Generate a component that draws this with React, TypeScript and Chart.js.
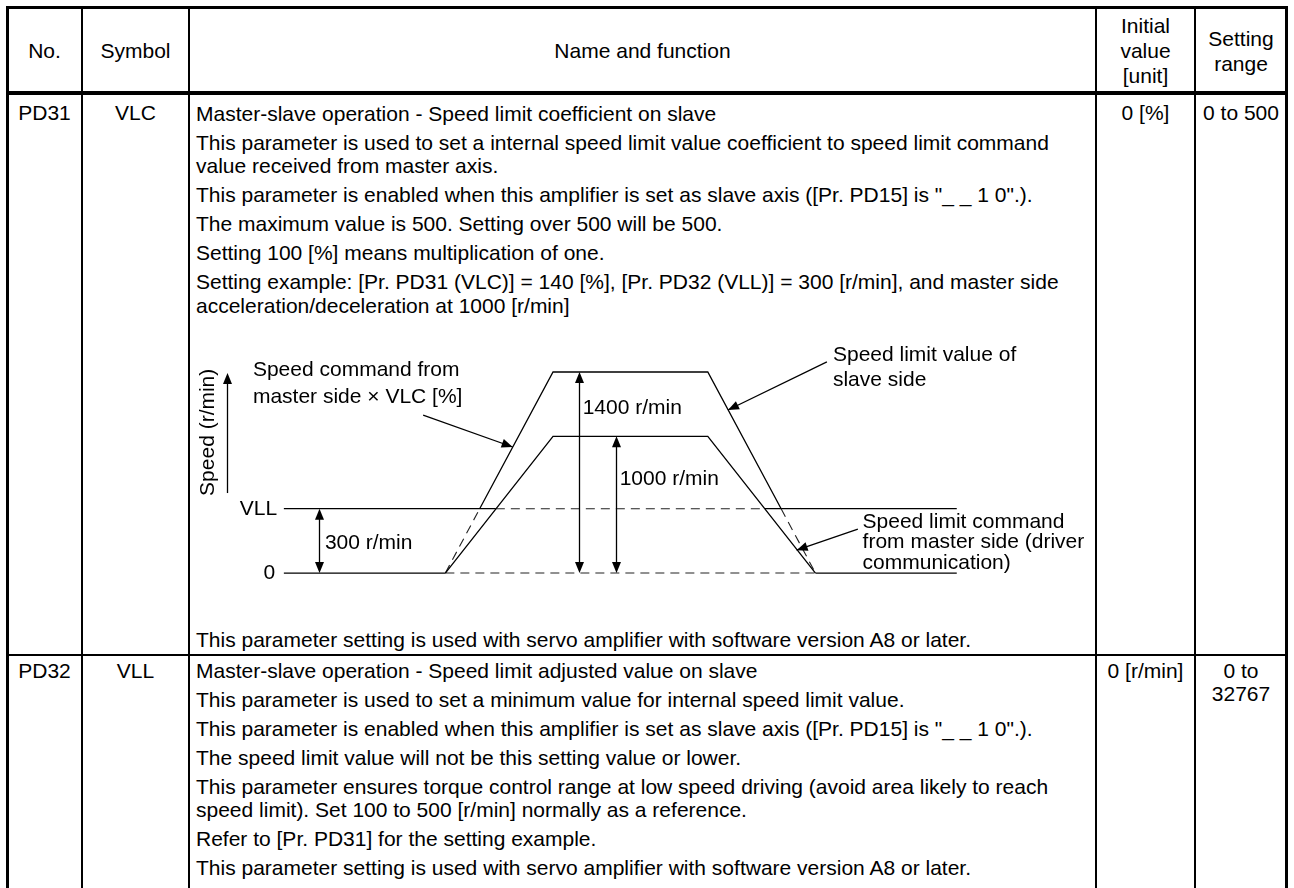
import React, { useEffect, useRef } from "react";
import { Chart, registerables } from "chart.js";

Chart.register(...registerables);

// ---------------- Table content ----------------
const headerNo = "No.";
const headerSymbol = "Symbol";
const headerName = "Name and function";
const headerInitial = ["Initial", "value", "[unit]"];
const headerRange = ["Setting", "range"];

const pd31No = "PD31";
const pd31Symbol = "VLC";
const pd31Initial = "0 [%]";
const pd31Range = ["0 to 500"];
const pd31Paragraphs = [
  ["Master-slave operation - Speed limit coefficient on slave"],
  [
    "This parameter is used to set a internal speed limit value coefficient to speed limit command",
    "value received from master axis.",
  ],
  ['This parameter is enabled when this amplifier is set as slave axis ([Pr. PD15] is "_ _ 1 0".).'],
  ["The maximum value is 500. Setting over 500 will be 500."],
  ["Setting 100 [%] means multiplication of one."],
  [
    "Setting example: [Pr. PD31 (VLC)] = 140 [%], [Pr. PD32 (VLL)] = 300 [r/min], and master side",
    "acceleration/deceleration at 1000 [r/min]",
  ],
];
const pd31Footer = "This parameter setting is used with servo amplifier with software version A8 or later.";

const pd32No = "PD32";
const pd32Symbol = "VLL";
const pd32Initial = "0 [r/min]";
const pd32Range = ["0 to", "32767"];
const pd32Paragraphs = [
  ["Master-slave operation - Speed limit adjusted value on slave"],
  ["This parameter is used to set a minimum value for internal speed limit value."],
  ['This parameter is enabled when this amplifier is set as slave axis ([Pr. PD15] is "_ _ 1 0".).'],
  ["The speed limit value will not be this setting value or lower."],
  [
    "This parameter ensures torque control range at low speed driving (avoid area likely to reach",
    "speed limit). Set 100 to 500 [r/min] normally as a reference.",
  ],
  ["Refer to [Pr. PD31] for the setting example."],
  ["This parameter setting is used with servo amplifier with software version A8 or later."],
];

// ---------------- Diagram data (schematic, not to scale) ----------------
// x: time (schematic units), y: speed level (schematic % of drawing height)
const levelZero = 0;
const levelVLL = 32; // VLL = 300 r/min
const levelMaster = 68; // speed limit command from master = 1000 r/min
const levelSlave = 100; // master x VLC (140 %) = 1400 r/min

const masterCmdT = [24, 40, 63, 79];
const masterCmdV = [levelZero, levelMaster, levelMaster, levelZero];

const slaveSolidT = [29.1, 40, 63, 73.9];
const slaveSolidV = [levelVLL, levelSlave, levelSlave, levelVLL];
const slaveDashLeftT = [24, 29.1];
const slaveDashLeftV = [levelZero, levelVLL];
const slaveDashRightT = [73.9, 79];
const slaveDashRightV = [levelVLL, levelZero];

const vllSolidLeftT = [0, 31.5];
const vllDashT = [31.5, 71.5];
const vllSolidRightT = [71.5, 100];

const zeroSolidLeftT = [0, 24];
const zeroDashT = [24, 79];
const zeroSolidRightT = [79, 100];

// dimension arrows (double headed): time position, from level, to level
const dimArrowT = [5.2, 43.8, 49.3];
const dimArrowFrom = [levelZero, levelZero, levelZero];
const dimArrowTo = [levelVLL, levelSlave, levelMaster];
const dimArrowText = ["300 r/min", "1400 r/min", "1000 r/min"];
const dimTextT = [6.1, 44.4, 49.9];
const dimTextV = [14.9, 82.1, 46.8];

// speed axis arrow
const axisArrowT = -8.5;
const axisArrowV = [39.8, 99.5];
const axisTitle = "Speed (r/min)";
const axisTitlePos = [-11.3, 70];

// level labels
const levelLabels = ["VLL", "0"];
const levelLabelT = [-1.0, -1.3];
const levelLabelV = [levelVLL, levelZero];

// callouts: lines of text, text anchor, pointer from -> to
const calloutLines = [
  ["Speed command from", "master side \u00d7 VLC [%]"],
  ["Speed limit value of", "slave side"],
  ["Speed limit command", "from master side (driver", "communication)"],
];
const calloutTextT = [-4.6, 81.6, 86.0];
const calloutTextV = [
  [101, 87.6],
  [108.5, 96],
  [25.4, 15.4, 5.0],
];
const pointerFromT = [20.7, 80.7, 85.3];
const pointerFromV = [78.6, 105, 21.9];
const pointerToT = [34.0, 66.0, 76.2];
const pointerToV = [62.7, 81.1, 11.4];

// scale ranges
const X_MIN = -13.8;
const X_MAX = 119.8;
const Y_MIN = -13.4;
const Y_MAX = 118.4;

const FONT_FAMILY = '"Liberation Sans", Arial, Helvetica, sans-serif';
const FONT_SIZE = 21;

const annotationPlugin = {
  id: "diagramAnnotations",
  afterDatasetsDraw(chart: any) {
    const { ctx } = chart;
    const xs = chart.scales.x;
    const ys = chart.scales.y;
    const px = (t: number) => xs.getPixelForValue(t);
    const py = (v: number) => ys.getPixelForValue(v);
    ctx.save();
    ctx.strokeStyle = "#000";
    ctx.fillStyle = "#000";
    ctx.lineWidth = 1.3;
    ctx.setLineDash([]);

    const head = (x0: number, y0: number, x1: number, y1: number) => {
      const a = Math.atan2(y1 - y0, x1 - x0);
      const len = 11;
      const half = 4.5;
      const bx = x1 - len * Math.cos(a);
      const by = y1 - len * Math.sin(a);
      ctx.beginPath();
      ctx.moveTo(x1, y1);
      ctx.lineTo(bx + half * Math.sin(a), by - half * Math.cos(a));
      ctx.lineTo(bx - half * Math.sin(a), by + half * Math.cos(a));
      ctx.closePath();
      ctx.fill();
    };
    const seg = (x0: number, y0: number, x1: number, y1: number) => {
      ctx.beginPath();
      ctx.moveTo(x0, y0);
      ctx.lineTo(x1, y1);
      ctx.stroke();
    };

    // dimension arrows
    dimArrowT.forEach((t, i) => {
      const x = Math.round(px(t)) + 0.5;
      const y0 = py(dimArrowFrom[i]);
      const y1 = py(dimArrowTo[i]);
      seg(x, y0 - 6, x, y1 + 6);
      head(x, y1 + 20, x, y0);
      head(x, y0 - 20, x, y1);
    });

    // speed axis arrow
    {
      const x = Math.round(px(axisArrowT)) + 0.5;
      const y0 = py(axisArrowV[0]);
      const y1 = py(axisArrowV[1]);
      seg(x, y0, x, y1 + 6);
      head(x, y0, x, y1);
    }

    // pointers
    pointerFromT.forEach((t, i) => {
      const x0 = px(t);
      const y0 = py(pointerFromV[i]);
      const x1 = px(pointerToT[i]);
      const y1 = py(pointerToV[i]);
      seg(x0, y0, x1, y1);
      head(x0, y0, x1, y1);
    });

    ctx.font = `${FONT_SIZE}px ${FONT_FAMILY}`;
    ctx.textBaseline = "middle";

    // callout texts
    ctx.textAlign = "left";
    calloutLines.forEach((lines, i) => {
      lines.forEach((s, j) => {
        ctx.fillText(s, px(calloutTextT[i]), py(calloutTextV[i][j]));
      });
    });
    dimArrowText.forEach((s, i) => {
      ctx.fillText(s, px(dimTextT[i]), py(dimTextV[i]));
    });

    // level labels
    ctx.textAlign = "right";
    levelLabels.forEach((s, i) => {
      ctx.fillText(s, px(levelLabelT[i]), py(levelLabelV[i]));
    });

    // axis title rotated
    ctx.save();
    ctx.translate(px(axisTitlePos[0]), py(axisTitlePos[1]));
    ctx.rotate(-Math.PI / 2);
    ctx.textAlign = "center";
    ctx.fillText(axisTitle, 0, 0);
    ctx.restore();

    ctx.restore();
  },
};

const CANVAS_LEFT = 191;
const CANVAS_TOP = 335;
const CANVAS_W = 899;
const CANVAS_H = 265;

function Diagram() {
  const ref = useRef<HTMLCanvasElement | null>(null);
  useEffect(() => {
    const canvas = ref.current;
    if (!canvas) return;
    const mk = (ts: number[], vs: number[]) => ts.map((t, i) => ({ x: t, y: vs[i] }));
    const solid = (label: string, ts: number[], vs: number[]) => ({
      label,
      data: mk(ts, vs),
      showLine: true,
      borderColor: "#000",
      borderWidth: 1.3,
      pointRadius: 0,
      fill: false,
      tension: 0,
    });
    const dashed = (label: string, ts: number[], vs: number[]) => ({
      ...solid(label, ts, vs),
      borderDash: [9, 6],
      borderWidth: 1.1,
      borderColor: "#222",
    });
    const chart = new Chart(canvas, {
      type: "scatter",
      data: {
        datasets: [
          solid("Speed limit command from master", masterCmdT, masterCmdV),
          solid("Speed limit value of slave", slaveSolidT, slaveSolidV),
          dashed("Master x VLC (left)", slaveDashLeftT, slaveDashLeftV),
          dashed("Master x VLC (right)", slaveDashRightT, slaveDashRightV),
          solid("VLL left", vllSolidLeftT, [levelVLL, levelVLL]),
          dashed("VLL middle", vllDashT, [levelVLL, levelVLL]),
          solid("VLL right", vllSolidRightT, [levelVLL, levelVLL]),
          solid("0 left", zeroSolidLeftT, [levelZero, levelZero]),
          dashed("0 middle", zeroDashT, [levelZero, levelZero]),
          solid("0 right", zeroSolidRightT, [levelZero, levelZero]),
        ] as any,
      },
      options: {
        animation: false,
        responsive: false,
        maintainAspectRatio: false,
        devicePixelRatio: 1,
        events: [],
        layout: { padding: 0 },
        plugins: { legend: { display: false }, tooltip: { enabled: false } },
        scales: {
          x: { type: "linear", min: X_MIN, max: X_MAX, display: false },
          y: { type: "linear", min: Y_MIN, max: Y_MAX, display: false },
        },
      } as any,
      plugins: [annotationPlugin],
    });
    return () => chart.destroy();
  }, []);
  return (
    <canvas
      ref={ref}
      width={CANVAS_W}
      height={CANVAS_H}
      style={{ position: "absolute", left: CANVAS_LEFT, top: CANVAS_TOP, width: CANVAS_W, height: CANVAS_H }}
    />
  );
}

// ---------------- Layout ----------------
const LINE_H = 23.5;
const PARA_GAP = 5.5;

const textStyle: React.CSSProperties = {
  position: "absolute",
  fontFamily: FONT_FAMILY,
  fontSize: FONT_SIZE,
  color: "#000",
  whiteSpace: "nowrap",
  lineHeight: `${LINE_H}px`,
};

function Box({ l, t, w, h }: { l: number; t: number; w: number; h: number }) {
  return <div style={{ position: "absolute", left: l, top: t, width: w, height: h, background: "#000" }} />;
}

function Centered({ cx, lines, top, lh = 25 }: { cx: number; lines: string[]; top: number; lh?: number }) {
  return (
    <div style={{ ...textStyle, left: cx - 60, width: 120, top, textAlign: "center", lineHeight: `${lh}px` }}>
      {lines.map((s, i) => (
        <div key={i}>{s}</div>
      ))}
    </div>
  );
}

function Paragraphs({ paras, top }: { paras: string[][]; top: number }) {
  return (
    <div style={{ ...textStyle, left: 196, top }}>
      {paras.map((p, i) => (
        <div key={i} style={{ marginTop: i === 0 ? 0 : PARA_GAP }}>
          {p.map((s, j) => (
            <div key={j}>{s}</div>
          ))}
        </div>
      ))}
    </div>
  );
}

export default function App() {
  const cNo = 44.5;
  const cSym = 135.5;
  const cName = 642;
  const cInit = 1145.5;
  const cRange = 1241;
  return (
    <div
      style={{
        position: "absolute",
        left: 0,
        top: 0,
        width: 1294,
        height: 888,
        overflow: "hidden",
        background: "#fff",
      }}
    >
      {/* borders */}
      <Box l={6} t={6} w={1282} h={3} />
      <Box l={6} t={6} w={3} h={900} />
      <Box l={1285} t={6} w={3} h={900} />
      <Box l={81} t={6} w={2} h={900} />
      <Box l={188} t={6} w={2} h={900} />
      <Box l={1095} t={6} w={2} h={900} />
      <Box l={1194} t={6} w={2} h={900} />
      <Box l={6} t={91} w={1282} h={4} />
      <Box l={6} t={654} w={1282} h={2} />

      {/* header */}
      <Centered cx={cNo} lines={[headerNo]} top={38} />
      <Centered cx={cSym} lines={[headerSymbol]} top={38} />
      <div style={{ ...textStyle, left: 190, width: 905, top: 38, textAlign: "center", lineHeight: "25px" }}>
        {headerName}
      </div>
      <Centered cx={cInit} lines={headerInitial} top={13} />
      <Centered cx={cRange} lines={headerRange} top={25.5} />

      {/* PD31 */}
      <Centered cx={cNo} lines={[pd31No]} top={101} lh={LINE_H} />
      <Centered cx={cSym} lines={[pd31Symbol]} top={101} lh={LINE_H} />
      <Centered cx={cInit} lines={[pd31Initial]} top={101} lh={LINE_H} />
      <Centered cx={cRange} lines={pd31Range} top={101} lh={LINE_H} />
      <Paragraphs paras={pd31Paragraphs} top={101.5} />
      <Diagram />
      <div style={{ ...textStyle, left: 196, top: 628 }}>{pd31Footer}</div>

      {/* PD32 */}
      <Centered cx={cNo} lines={[pd32No]} top={658.5} lh={LINE_H} />
      <Centered cx={cSym} lines={[pd32Symbol]} top={658.5} lh={LINE_H} />
      <Centered cx={cInit} lines={[pd32Initial]} top={658.5} lh={LINE_H} />
      <Centered cx={cRange} lines={pd32Range} top={658.5} lh={LINE_H} />
      <Paragraphs paras={pd32Paragraphs} top={658.5} />
    </div>
  );
}
